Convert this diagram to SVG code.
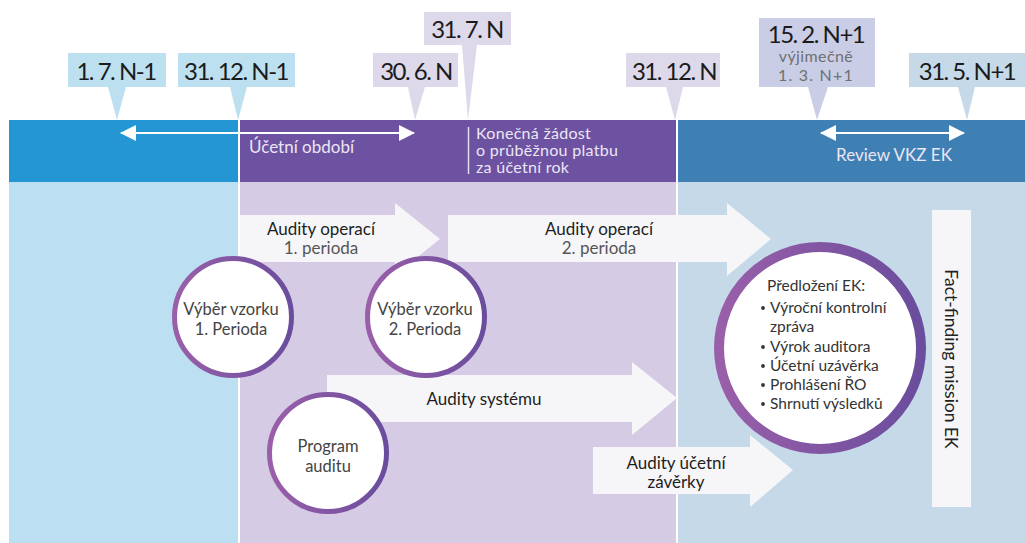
<svg xmlns="http://www.w3.org/2000/svg" width="1025" height="543" viewBox="0 0 1025 543">
<defs>
<linearGradient id="ring" x1="0" y1="0" x2="1" y2="0">
<stop offset="0" stop-color="#9a5fa9"/>
<stop offset="1" stop-color="#6a4d9d"/>
</linearGradient>
<marker id="ah" viewBox="0 0 16 16" refX="15" refY="8" markerWidth="16" markerHeight="16" markerUnits="userSpaceOnUse" orient="auto-start-reverse">
<path d="M0,0 L16,8 L0,16 Z" fill="#ffffff"/>
</marker>
<style>
text{font-family:Lato,"Noto Sans","DejaVu Sans",sans-serif;}
.date{font-size:24px;fill:#1b1b1b;letter-spacing:-1.5px;text-anchor:middle;}
.sub{font-size:16px;fill:#707070;text-anchor:middle;}
.band{font-size:17px;fill:#ece6f4;}
.band2{font-size:16px;fill:#ece6f4;letter-spacing:0.3px;}
.big{fill:#f6f6f9;}
.lbl{font-size:17px;fill:#1e1e1e;text-anchor:middle;}
.lbl2{font-size:17px;fill:#555;text-anchor:middle;}
.ct{font-size:16.5px;fill:#444;text-anchor:middle;}
.ring{fill:#ffffff;stroke:url(#ring);stroke-width:5;}
.li{font-size:15.5px;fill:#333;}
</style>
</defs>
<rect x="0" y="0" width="1025" height="543" fill="#ffffff"/>
<g id="background">
<rect x="9" y="182" width="229" height="361" fill="#bcdff1"/>
<rect x="240" y="182" width="436" height="361" fill="#d5cbe5"/>
<rect x="678" y="182" width="347" height="361" fill="#c5d9e9"/>
<rect x="9" y="120" width="229" height="62" fill="#2396d3"/>
<rect x="240" y="120" width="436" height="62" fill="#6c52a1"/>
<rect x="678" y="120" width="347" height="62" fill="#3e7fb4"/>
</g>
<g id="date-labels">
<g id="d-1-7">
<rect x="68" y="53" width="98" height="34" fill="#bde0f1"/>
<polygon points="108,87 126,87 117,120" fill="#bde0f1"/>
<text class="date" x="116" y="80">1. 7. N-1</text>
</g>
<g id="d-31-12-n1">
<rect x="178" y="53" width="117" height="34" fill="#bde0f1"/>
<polygon points="230,87 247,87 238,120" fill="#bde0f1"/>
<text class="date" x="236" y="80">31. 12. N-1</text>
</g>
<g id="d-30-6">
<rect x="373" y="53" width="85" height="34" fill="#ddd8ea"/>
<polygon points="408,87 425,87 415,120" fill="#ddd8ea"/>
<text class="date" x="416" y="80">30. 6. N</text>
</g>
<g id="d-31-7">
<rect x="424" y="12" width="87" height="33" fill="#ddd8ea"/>
<polygon points="462,45 477,45 468,120" fill="#ddd8ea"/>
<text class="date" x="467" y="38">31. 7. N</text>
</g>
<g id="d-31-12-n">
<rect x="626" y="53" width="94" height="34" fill="#ddd8ea"/>
<polygon points="666,87 683,87 675,120" fill="#ddd8ea"/>
<text class="date" x="674" y="80">31. 12. N</text>
</g>
<g id="d-15-2">
<rect x="759" y="18" width="116" height="69" fill="#c9cde6"/>
<polygon points="808,87 828,87 817,120" fill="#c9cde6"/>
<text class="date" x="816" y="43">15. 2. N+1</text>
<text class="sub" x="816" y="62" letter-spacing="0.4">výjimečně</text>
<text class="sub" x="816" y="81" letter-spacing="1.2">1. 3. N+1</text>
</g>
<g id="d-31-5">
<rect x="909" y="53" width="116" height="34" fill="#c5d9e9"/>
<polygon points="958,87 975,87 967,120" fill="#c5d9e9"/>
<text class="date" x="967" y="80">31. 5. N+1</text>
</g>
</g>
<g id="connectors">
<line x1="121" y1="133" x2="414" y2="133" stroke="#ffffff" stroke-width="2" marker-start="url(#ah)" marker-end="url(#ah)"/>
<line x1="821" y1="133" x2="964" y2="133" stroke="#ffffff" stroke-width="2" marker-start="url(#ah)" marker-end="url(#ah)"/>
<line x1="468.5" y1="127" x2="468.5" y2="174" stroke="#e6def0" stroke-width="1.5"/>
</g>
<g id="band-texts">
<text class="band" x="249" y="153">Účetní období</text>
<text class="band2" x="476" y="139">Konečná žádost</text>
<text class="band2" x="476" y="156">o průběžnou platbu</text>
<text class="band2" x="476" y="173">za účetní rok</text>
<text class="band" x="894" y="161" text-anchor="middle">Review VKZ EK</text>
</g>
<g id="audity-operaci-1">
<polygon class="big" points="240,215 395,215 395,203 440,239 395,275 395,262 240,262"/>
<text class="lbl" x="321" y="235">Audity operací</text>
<text class="lbl2" x="321" y="254">1. perioda</text>
</g>
<g id="audity-operaci-2">
<polygon class="big" points="448,215 727,215 727,203 771,239 727,276 727,262 448,262"/>
<text class="lbl" x="599" y="235">Audity operací</text>
<text class="lbl2" x="599" y="254">2. perioda</text>
</g>
<g id="audity-systemu">
<polygon class="big" points="327,375 632,375 632,362 677,398 632,435 632,422 327,422"/>
<text class="lbl" x="484" y="405">Audity systému</text>
</g>
<g id="audity-zaverky">
<polygon class="big" points="593,447 750,447 750,435 793,470 750,507 750,494 593,494"/>
<text class="lbl" x="676" y="469">Audity účetní</text>
<text class="lbl" x="676" y="488">závěrky</text>
</g>
<g id="fact-finding">
<rect x="932" y="210" width="39" height="297" fill="#f6f6f9"/>
<text x="945" y="359" transform="rotate(90 945 359)" font-size="17.5" fill="#222" text-anchor="middle">Fact-finding mission EK</text>
</g>
<g id="vyber-1">
<circle class="ring" cx="233" cy="317" r="58.5"/>
<text class="ct" x="231" y="315">Výběr vzorku</text>
<text class="ct" x="231" y="335">1. Perioda</text>
</g>
<g id="vyber-2">
<circle class="ring" cx="426" cy="317" r="58.5"/>
<text class="ct" x="425" y="315">Výběr vzorku</text>
<text class="ct" x="425" y="335">2. Perioda</text>
</g>
<g id="program-auditu">
<circle class="ring" cx="328" cy="453" r="58.5"/>
<text class="ct" x="328" y="452">Program</text>
<text class="ct" x="328" y="472">auditu</text>
</g>
<g id="predlozeni-ek">
<circle cx="820" cy="348" r="101" fill="#ffffff" stroke="url(#ring)" stroke-width="10"/>
<text class="li" x="767" y="291">Předložení EK:</text>
<circle cx="763" cy="308" r="1.9" fill="#333"/>
<circle cx="763" cy="347" r="1.9" fill="#333"/>
<circle cx="763" cy="366" r="1.9" fill="#333"/>
<circle cx="763" cy="385" r="1.9" fill="#333"/>
<circle cx="763" cy="404" r="1.9" fill="#333"/>
<text class="li" x="770" y="313">Výroční kontrolní</text>
<text class="li" x="770" y="332">zpráva</text>
<text class="li" x="770" y="352">Výrok auditora</text>
<text class="li" x="770" y="371">Účetní uzávěrka</text>
<text class="li" x="770" y="390">Prohlášení ŘO</text>
<text class="li" x="770" y="409">Shrnutí výsledků</text>
</g>
</svg>
